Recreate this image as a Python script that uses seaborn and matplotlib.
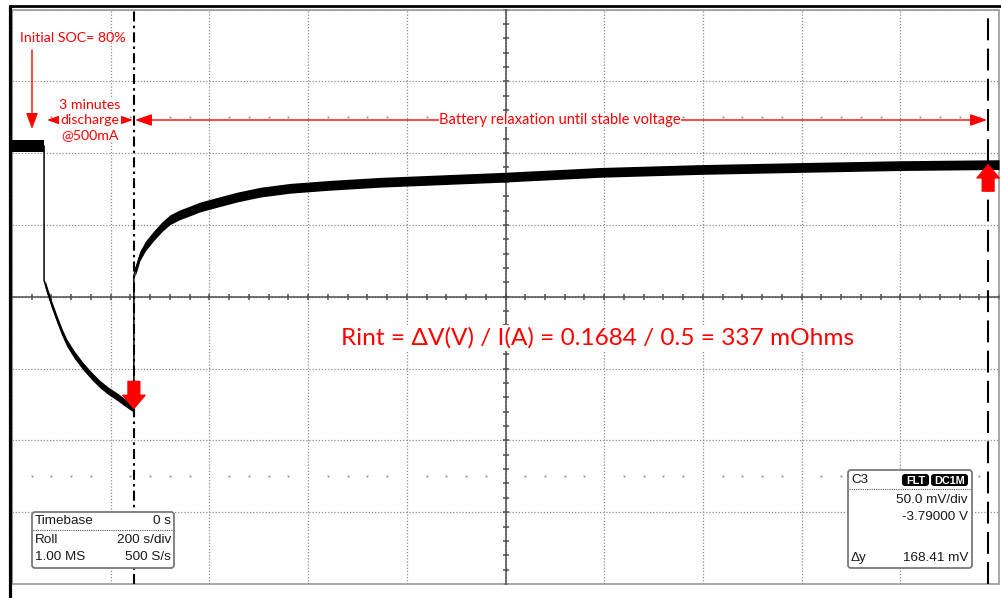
import numpy as np
import matplotlib
matplotlib.use("Agg")
import matplotlib.pyplot as plt
import matplotlib.patches as mpatches
import matplotlib.transforms as mtrans
from matplotlib.lines import Line2D
import seaborn as sns

# --- scope settings ---
sec_per_div = 200
volt_per_div = 0.050
center_v = 3.79
n_xdiv = 10

# --- trace (time in s, voltage in V) ---
rest_t = [0, 65]
rest_v = [3.895, 3.895]

dis_t = [65, 67, 73, 81, 91, 101, 111, 126, 144, 162, 178, 195, 213, 229, 247]
dis_v = [3.8012, 3.7991, 3.7923, 3.7840, 3.7745, 3.7656, 3.7580, 3.7498, 3.7416,
         3.7347, 3.7292, 3.7245, 3.7204, 3.7163, 3.7122]

rel_t = [247, 249, 253, 259, 270, 286, 304, 320, 340, 361, 381, 411, 456, 503, 563,
         644, 746, 888, 989, 1192, 1394, 1597, 1799, 2000]
rel_v = [3.8046, 3.8075, 3.8114, 3.8183, 3.8251, 3.8320, 3.8388, 3.8436, 3.8471,
         3.8498, 3.8525, 3.8553, 3.8594, 3.8628, 3.8655, 3.8676, 3.8697, 3.8717,
         3.8731, 3.8766, 3.8786, 3.8800, 3.8813, 3.8820]

cursor_t = [247, 1978]

timebase_rows = [("Timebase", "0 s"), ("Roll", "200 s/div"), ("1.00 MS", "500 S/s")]
ch_rows = ["50.0 mV/div", "-3.79000 V"]
delta_y = "168.41 mV"

RED = "#ff0000"
GRID = "#8c8c8c"
AXC = "#4d4d4d"

sns.set_style("white")
plt.rcParams["font.family"] = ["Lato", "DejaVu Sans"]

W, H = 1001, 598
fig = plt.figure(figsize=(W / 100, H / 100), dpi=100)
# pixel transform: (x from left, y from top)
P = mtrans.Affine2D().scale(1 / 100, -1 / 100).translate(0, H / 100) + fig.dpi_scale_trans

top_px, bot_px, left_px, right_px, mid_px = 9.5, 584, 12, 999, 301.3
ax = fig.add_axes([left_px / W, (H - bot_px) / H, (right_px - left_px) / W, (bot_px - top_px) / H])
px_per_v = 73 / volt_per_div
ax.set_xlim(0, n_xdiv * sec_per_div)
ax.set_ylim(center_v - (bot_px - mid_px) / px_per_v, center_v + (mid_px - top_px) / px_per_v)

# graticule
ax.set_xticks(np.arange(0, 2001, sec_per_div))
ax.set_xticks(np.arange(0, 2001, sec_per_div / 5), minor=True)
ax.set_yticks(np.round(center_v + np.arange(-4, 5) * volt_per_div, 3))
ax.set_yticks(np.round(center_v + np.arange(-20, 21) * volt_per_div / 5, 3), minor=True)
ax.grid(True, which="major", ls=(0, (1, 1.5)), color=GRID, lw=0.9)
for s in ["top", "right"]:
    ax.spines[s].set_visible(False)
ax.spines["left"].set_position(("data", 1000))
ax.spines["bottom"].set_position(("data", center_v))
for s in ["left", "bottom"]:
    ax.spines[s].set_color(AXC)
    ax.spines[s].set_linewidth(1.1)
ax.tick_params(which="both", direction="inout", length=5, width=1.1, color=AXC,
               bottom=True, left=True, top=False, right=False,
               labelbottom=False, labelleft=False)
ax.add_patch(mpatches.Rectangle((0, 0), 1, 1, transform=ax.transAxes, fill=False,
                                ec="#9a9a9a", lw=1.2, clip_on=False, zorder=1))
# dotted minor rows at +-2.5 div
xm = [x for x in np.arange(0, 2001, 40) if x % 200]
for lvl in (center_v + 2.5 * volt_per_div, center_v - 2.5 * volt_per_div):
    ax.plot(xm, [lvl] * len(xm), ls="none", marker="s", ms=1.3, color=GRID, mew=0)

# trace: noise band + thin connecting line
for tt, vv, hw in [(rest_t, rest_v, 0.0042), (dis_t[1:], dis_v[1:], 0.0026),
                   (rel_t[1:], rel_v[1:], 0.0034)]:
    tt = np.array(tt, float)
    vv = np.array(vv, float)
    ax.fill_between(tt, vv - hw, vv + hw, color="black", lw=0, zorder=3)
all_t = rest_t + dis_t + rel_t
all_v = rest_v + dis_v + rel_v
sns.lineplot(x=all_t, y=all_v, ax=ax, color="black", lw=1.1, sort=False,
             estimator=None, zorder=3)

# cursors
ax.axvline(cursor_t[0], color="black", lw=1.5, ls=(0, (4.8, 2, 1.2, 2)), zorder=4)
ax.axvline(cursor_t[1], color="black", lw=1.5, ls=(0, (10.5, 4)), zorder=4)

# red cursor markers
arrow_kw = dict(arrowstyle="simple,head_length=0.95,head_width=1.6,tail_width=0.85",
                color=RED, shrinkA=0, shrinkB=0, mutation_scale=10)
ax.annotate("", xy=(cursor_t[0], dis_v[-1]), xytext=(0, 19.5), textcoords="offset points",
            arrowprops=arrow_kw, zorder=6)
ax.annotate("", xy=(cursor_t[1], np.interp(cursor_t[1], rel_t, rel_v)), xytext=(0, -19),
            textcoords="offset points", arrowprops=arrow_kw, zorder=6)

# annotations (figure pixels)
fig.text(20, 38, "Initial SOC= 80%", transform=P, color=RED, fontsize=10.2, va="center")
fig.add_artist(mpatches.FancyArrowPatch((32, 50), (32, 129), transform=P,
               arrowstyle="-|>,head_length=0.8,head_width=0.3", mutation_scale=12,
               color=RED, lw=1, shrinkA=0, shrinkB=0))
dbl = "<|-|>,head_length=0.85,head_width=0.3"
fig.add_artist(mpatches.FancyArrowPatch((47, 120), (133, 120), transform=P, arrowstyle=dbl,
               mutation_scale=12, color=RED, lw=1, shrinkA=0, shrinkB=0, zorder=5))
fig.add_artist(mpatches.FancyArrowPatch((135, 120), (987, 120), transform=P, arrowstyle=dbl,
               mutation_scale=12, color=RED, lw=1, shrinkA=0, shrinkB=0, zorder=5))
fig.text(90, 120, "3 minutes\ndischarge\n@500mA", transform=P, color=RED, fontsize=10.2,
         ha="center", va="center", linespacing=1.26, zorder=6,
         bbox=dict(fc="white", ec="none", pad=0))
fig.text(560, 120, "Battery relaxation until stable voltage", transform=P, color=RED,
         fontsize=10.5, ha="center", va="center", zorder=6,
         bbox=dict(fc="white", ec="none", pad=0.3))
fig.text(598, 338, "Rint = \u0394V(V) / I(A) = 0.1684 / 0.5 = 337 mOhms", transform=P,
         color=RED, fontsize=17.6, ha="center", va="center", zorder=6,
         bbox=dict(fc="white", ec="none", pad=2))

# scope info boxes
info = dict(transform=P, fontsize=9.7, family=["Liberation Sans", "DejaVu Sans"],
            color="#1a1a1a", va="center", zorder=8)


def box(x0, y0, x1, y1):
    fig.add_artist(mpatches.FancyBboxPatch((x0, y0), x1 - x0, y1 - y0, transform=P,
                   boxstyle="round,pad=0,rounding_size=3", fc="white", ec="#7a7a7a",
                   lw=1.3, zorder=7))


box(32, 512, 174, 568)
for i, (a, b) in enumerate(timebase_rows):
    yy = [521, 540, 557][i]
    fig.text(35, yy, a, ha="left", **info)
    fig.text(171, yy, b, ha="right", **info)
fig.add_artist(Line2D([33, 173], [530, 530], transform=P, color="#555", lw=0.8,
                      ls=(0, (1, 1)), zorder=8))

box(848, 470, 972, 568)
fig.text(851, 480, "C3", ha="left", **info)
for (bx0, bx1, lab) in [(902, 929, "FLT"), (931, 968, "DC1M")]:
    fig.add_artist(mpatches.FancyBboxPatch((bx0, 474), bx1 - bx0, 12, transform=P,
                   boxstyle="round,pad=0,rounding_size=3", fc="black", ec="none", zorder=8))
    fig.text((bx0 + bx1) / 2, 480.5, lab, transform=P, fontsize=7.8, color="white",
             weight="bold", family=["Liberation Sans", "DejaVu Sans"], ha="center",
             va="center", zorder=9)
fig.add_artist(Line2D([849, 971], [489, 489], transform=P, color="#555", lw=0.8,
                      ls=(0, (1, 1)), zorder=8))
fig.text(968, 500, ch_rows[0], ha="right", **info)
fig.text(968, 517, ch_rows[1], ha="right", **info)
fig.text(851, 558, "\u0394y", ha="left", **info)
fig.text(968, 558, delta_y, ha="right", **info)

# outer screenshot frame
fig.add_artist(Line2D([10, 1001], [6, 6], transform=P, color="black", lw=2))
fig.add_artist(Line2D([10, 10], [6, 598], transform=P, color="black", lw=2.3))

fig.savefig("out.png", dpi=100)
